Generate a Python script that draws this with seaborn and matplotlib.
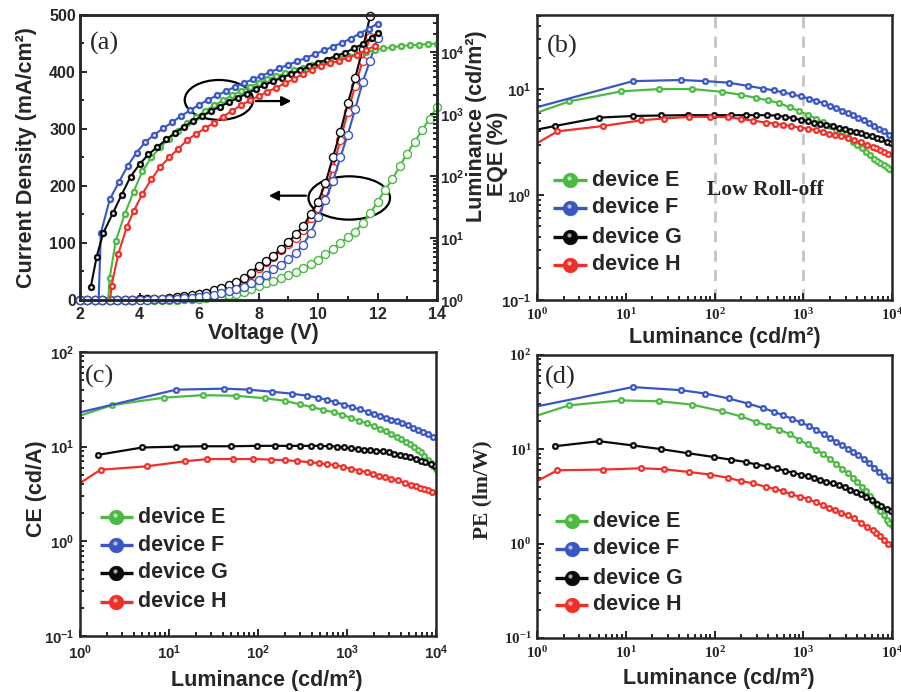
import numpy as np
import matplotlib
matplotlib.use("Agg")
import matplotlib.pyplot as plt
import seaborn as sns
from matplotlib.patches import Ellipse
from matplotlib.ticker import MultipleLocator, LogLocator, FuncFormatter, NullFormatter
from matplotlib.colors import to_rgb

# =========================================
# DATA
# =========================================

LABELS = ["device E", "device F", "device G", "device H"]
C_E, C_F, C_G, C_H = "#4cb944", "#3a56c4", "#0a0a0a", "#ef2f28"

# current density sweep (open circles, left axis of (a))
V_J = [2.0, 2.25, 2.5, 2.75, 3.0, 3.25, 3.5, 3.75, 4.0, 4.25, 4.5, 4.75, 5.0, 5.25,
       5.5, 5.75, 6.0, 6.25, 6.5, 6.75, 7.0, 7.25, 7.5, 7.75, 8.0, 8.25, 8.5, 8.75,
       9.0, 9.25, 9.5, 9.75, 10.0, 10.25, 10.5, 10.75, 11.0, 11.25, 11.5, 11.75,
       12.0, 12.25, 12.5, 12.75, 13.0, 13.25, 13.5, 13.75, 14.0]
J_E = [0, 0, 0, 0, 0, 0, 0, 0, 0.1, 0.2, 0.3, 0.4, 0.5, 0.7, 0.9, 1.2,
       2, 3, 4.5, 6, 8, 10.5, 14, 19, 24, 29, 34, 38, 43, 49, 56, 63, 71, 80, 90,
       100, 110, 120, 135, 152, 172, 193, 212, 235, 257, 278, 298, 318, 339]
J_F = [0, 0, 0, 0, 0, 0.1, 0.2, 0.3, 0.5, 0.7, 0.9, 1.2, 1.5, 2.0, 3.0, 4.0,
       5.0, 7, 9.5, 12, 15, 19, 23, 29, 35, 44, 55, 62, 72, 82, 97, 118, 146,
       176, 208, 250, 290, 335, 382, 420, 460]
J_G = [0, 0, 0, 0, 0.1, 0.2, 0.4, 0.6, 0.9, 1.3, 1.8, 2.6, 3.6, 4.8, 6.3, 8.0,
       10, 13, 17, 21, 26, 31, 38, 48, 59, 68, 78, 90, 102, 115, 130, 150, 172,
       205, 250, 295, 345, 390, 440, 498]
J_H = [0, 0, 0, 0, 0, 0.2, 0.4, 0.6, 0.9, 1.3, 1.8, 2.5, 3.4, 4.5, 6, 7.5,
       9.5, 12, 15.5, 20, 24, 29, 36, 46, 57, 66, 75, 87, 98, 109, 123, 143, 162,
       192, 232, 280, 330, 375, 420, 462]

# luminance sweep (filled circles, right axis of (a)) and efficiencies
V_E = [2.9, 3.0, 3.2, 3.5, 3.8, 4.1, 4.4, 4.7, 5.0, 5.3, 5.6, 5.9, 6.2, 6.5, 6.8,
       7.1, 7.4, 7.7, 8.0, 8.3, 8.6, 8.9, 9.2, 9.5, 9.8, 10.1, 10.4, 10.7, 11.0,
       11.3, 11.6, 11.9, 12.2, 12.5, 12.8, 13.1, 13.4, 13.7, 14.0]
L_E = [0.5, 2.3, 8.9, 24, 56, 120, 200, 295, 400, 540, 710, 890, 1120, 1380, 1660,
       2000, 2340, 2750, 3160, 3630, 4070, 4570, 5130, 5620, 6310, 6760, 7410,
       8130, 8710, 9330, 10000, 10700, 11500, 12000, 12600, 12900, 13200, 13500, 13800]
EQE_E = [4.9, 7.7, 9.6, 10.1, 10.1, 9.5, 8.9, 8.3, 7.9, 7.4, 6.75, 6.25, 5.75, 5.3,
         4.9, 4.5, 4.15, 3.85, 3.5, 3.2, 2.95, 2.75, 2.55, 2.4, 2.2, 2.1, 2.0, 1.9,
         1.82, 1.77, 1.72, 1.66, 1.6, 1.55, 1.5, 1.45, 1.4, 1.35, 1.3]
CE_E = [17.1, 27.5, 33, 35, 34.5, 32.5, 30.5, 28, 26.2, 24.5, 23, 21.8, 20.0, 18.7,
        17.7, 16.4, 15.4, 14.5, 13.6, 12.8, 12.1, 11.3, 10.6, 10.0, 9.3, 8.7, 8.0,
        7.3, 6.8, 6.3, 5.8, 5.4, 5.0, 4.7, 4.4, 4.1, 3.9, 3.7, 3.5]
PE_E = [18.5, 29.3, 33, 32.3, 29.8, 25.4, 22.3, 19.5, 17.8, 16.2, 14.4, 12.7, 11.3,
        9.9, 9.0, 7.9, 7.0, 6.2, 5.6, 5.0, 4.5, 4.0, 3.6, 3.2, 2.75, 2.5, 2.2, 2.0,
        1.8, 1.67, 1.56, 1.45, 1.35, 1.25, 1.15, 1.08, 1.0, 0.95, 0.9]

V_F = [2.6, 2.7, 3.0, 3.3, 3.6, 3.9, 4.2, 4.5, 4.8, 5.1, 5.4, 5.7, 6.0, 6.3, 6.6,
       6.9, 7.2, 7.5, 7.8, 8.1, 8.4, 8.7, 9.0, 9.3, 9.6, 9.9, 10.2, 10.5, 10.8,
       11.1, 11.4, 11.7, 12.0]
L_F = [0.4, 12, 42, 79, 145, 240, 355, 468, 589, 741, 933, 1150, 1410, 1700, 2000,
       2340, 2750, 3160, 3630, 4170, 4790, 5500, 6310, 7080, 8130, 9330, 10700,
       12300, 14100, 16600, 20000, 24000, 28800]
EQE_F = [5.5, 12.0, 12.3, 12.0, 11.6, 10.8, 10.2, 9.8, 9.4, 9.0, 8.6, 8.2, 7.8, 7.4,
         7.0, 6.7, 6.3, 6.0, 5.7, 5.4, 5.1, 4.8, 4.5, 4.25, 4.0, 3.7, 3.45, 3.2,
         2.95, 2.7, 2.45, 2.2, 2.0]
CE_F = [18.8, 40, 41, 40, 38, 36.3, 34.5, 33, 31.2, 29.5, 27.8, 26.0, 24.7, 23.3,
        22.2, 21.2, 20.1, 19.3, 18.5, 17.6, 16.8, 15.9, 15.1, 14.3, 13.5, 12.8,
        12.0, 11.3, 10.6, 9.9, 9.1, 8.4, 7.7]
PE_F = [24, 45.7, 42.4, 39, 34.6, 30.5, 27.3, 25, 23, 21.2, 19.3, 17.8, 16.1, 14.4,
        13.2, 12.1, 11.0, 10.2, 9.4, 8.8, 7.9, 7.1, 6.4, 5.8, 5.2, 4.7, 4.3, 3.9,
        3.5, 3.1, 2.7, 2.4, 2.1]

V_G = [2.2, 2.36, 2.56, 2.78, 3.1, 3.4, 3.7, 4.0, 4.3, 4.6, 4.9, 5.2, 5.5, 5.8,
       6.1, 6.4, 6.7, 7.0, 7.3, 7.6, 7.9, 8.2, 8.5, 8.8, 9.1, 9.4, 9.7, 10.0, 10.3,
       10.6, 10.9, 11.2, 11.5, 11.8, 12.0]
L_G = [0.5, 1.6, 5.0, 12, 25, 50, 98, 155, 224, 295, 390, 500, 630, 776, 933, 1120,
       1320, 1550, 1820, 2140, 2510, 2950, 3390, 3890, 4470, 5130, 5890, 6760,
       7590, 8710, 9770, 11500, 13500, 17000, 20400]
EQE_G = [3.7, 4.5, 5.4, 5.6, 5.66, 5.7, 5.7, 5.7, 5.7, 5.7, 5.7, 5.65, 5.5, 5.35,
         5.15, 5.0, 4.85, 4.7, 4.55, 4.45, 4.35, 4.2, 4.05, 3.95, 3.85, 3.7, 3.6,
         3.45, 3.35, 3.2, 3.1, 2.95, 2.8, 2.6, 2.45]
# CE / PE of device G start at the second luminance point
CE_G = [8.2, 9.8, 10.0, 10.1, 10.1, 10.2, 10.2, 10.2, 10.2, 10.2, 10.2, 10.1, 10.0,
        9.8, 9.6, 9.45, 9.3, 9.15, 9.0, 8.9, 8.7, 8.45, 8.25, 8.0, 7.7, 7.45, 7.1,
        6.85, 6.5, 6.25, 5.9, 5.5, 5.0, 4.6]
PE_G = [10.8, 12.2, 11.0, 10.05, 9.1, 8.3, 7.75, 7.35, 6.9, 6.6, 6.3, 5.9, 5.65,
        5.4, 5.2, 4.95, 4.7, 4.5, 4.35, 4.15, 3.95, 3.75, 3.55, 3.35, 3.15, 2.9,
        2.65, 2.5, 2.35, 2.2, 2.0, 1.85, 1.65, 1.5]

V_H = [2.95, 3.06, 3.29, 3.57, 3.8, 4.1, 4.4, 4.7, 5.0, 5.3, 5.6, 5.9, 6.2, 6.5,
       6.8, 7.1, 7.4, 7.7, 8.0, 8.3, 8.6, 8.9, 9.2, 9.5, 9.8, 10.1, 10.4, 10.7,
       11.0, 11.3, 11.6, 11.9]
L_H = [0.5, 1.7, 5.6, 15, 27, 52, 89, 141, 200, 275, 380, 479, 589, 724, 910, 1120,
       1380, 1660, 1950, 2290, 2690, 3160, 3720, 4470, 5250, 6030, 6610, 7240,
       8130, 9120, 10700, 12600]
EQE_H = [2.2, 4.0, 4.5, 5.1, 5.3, 5.5, 5.5, 5.45, 5.25, 5.05, 4.85, 4.75, 4.6, 4.5,
         4.35, 4.25, 4.1, 3.95, 3.8, 3.7, 3.6, 3.45, 3.3, 3.15, 3.0, 2.85, 2.75,
         2.65, 2.55, 2.45, 2.35, 2.2]
CE_H = [2.7, 5.7, 6.2, 7.0, 7.4, 7.4, 7.4, 7.3, 7.2, 7.05, 6.85, 6.7, 6.55, 6.4,
        6.1, 5.85, 5.6, 5.4, 5.15, 4.95, 4.75, 4.55, 4.4, 4.15, 3.95, 3.8, 3.7,
        3.6, 3.45, 3.3, 3.1, 2.9]
PE_H = [3.26, 6.0, 6.1, 6.3, 6.15, 5.75, 5.4, 5.0, 4.6, 4.35, 4.0, 3.8, 3.6, 3.36,
        3.15, 2.98, 2.75, 2.55, 2.4, 2.27, 2.13, 2.0, 1.85, 1.67, 1.5, 1.38, 1.3,
        1.2, 1.1, 1.0, 0.88, 0.78]

# =========================================
# STYLE
# =========================================

sns.set_style("ticks")
plt.rcParams["font.family"] = ["Liberation Sans", "DejaVu Sans"]
plt.rcParams["font.weight"] = "bold"
plt.rcParams["axes.labelweight"] = "bold"
plt.rcParams["mathtext.fontset"] = "custom"
plt.rcParams["mathtext.rm"] = "Liberation Sans:bold"
plt.rcParams["mathtext.bf"] = "Liberation Sans:bold"
plt.rcParams["mathtext.sf"] = "Liberation Serif:bold"
plt.rcParams["axes.linewidth"] = 1.8

SERIF = ["Liberation Serif", "DejaVu Serif"]
TICK_FS = 11.5
LOG_FS = 10.8
LABEL_FS = 15.5


def light(c, f=0.55):
    r, g, b = to_rgb(c)
    return (r + (1 - r) * f, g + (1 - g) * f, b + (1 - b) * f)


def pow_sans(v, pos):
    return r"$\mathbf{10^{%d}}$" % int(round(np.log10(v)))


def pow_serif(v, pos):
    return r"$\mathsf{10^{%d}}$" % int(round(np.log10(v)))


def ticks_in(ax, fs=TICK_FS):
    ax.tick_params(which="both", direction="in", top=False, right=False, width=1.4)
    ax.tick_params(which="major", length=5, labelsize=fs)
    ax.tick_params(which="minor", length=2.8)


def log_axes(ax, ylim, xfmt, yfmt):
    ax.set_xscale("log")
    ax.set_yscale("log")
    ax.set_xlim(1, 1e4)
    ax.set_ylim(*ylim)
    for axis, fmt in ((ax.xaxis, xfmt), (ax.yaxis, yfmt)):
        axis.set_major_locator(LogLocator(base=10, numticks=10))
        axis.set_minor_locator(LogLocator(base=10, subs=np.arange(2, 10), numticks=20))
        axis.set_major_formatter(FuncFormatter(fmt))
        axis.set_minor_formatter(NullFormatter())
    ticks_in(ax, LOG_FS)
    ax.tick_params(axis="x", pad=5)
    ax.tick_params(axis="y", pad=4)


def ball_line(ax, x, y, color, ms=4.8, lw=1.6):
    sns.lineplot(x=x, y=y, ax=ax, color=color, lw=lw, marker="o", ms=ms,
                 mec=color, mew=0.3, estimator=None, sort=False, legend=False)
    ax.plot(x, y, ls="none", marker="o", ms=ms * 0.38, color="white", mec="none")


def device_legend(ax, x0, x1, xt, rows):
    # line + shaded ball + label, placed in axes fractions
    xc = (x0 + x1) / 2
    for c, lab, yr in zip((C_E, C_F, C_G, C_H), LABELS, rows):
        kw = dict(transform=ax.transAxes, clip_on=False)
        ax.plot([x0, x1], [yr, yr], color=c, lw=2.4, solid_capstyle="butt", **kw)
        ax.plot([xc], [yr], ls="none", marker="o", ms=10.5, mfc=c, mec=c, mew=0.5, **kw)
        ax.plot([xc - 0.004], [yr + 0.006], ls="none", marker="o", ms=3.0,
                mfc=light(c, 0.65), mec="none", **kw)
        ax.text(xt, yr, lab, transform=ax.transAxes, fontsize=15.5, weight="bold",
                va="center", ha="left")


fig = plt.figure(figsize=(9.01, 6.92), dpi=100)

# =========================================
# (a) J-V-L
# =========================================

ax_a = fig.add_axes([80 / 901, 392 / 692, 357 / 901, 285 / 692])
ax_a.set_xlim(2, 14)
ax_a.set_ylim(0, 500)
ax_a.xaxis.set_major_locator(MultipleLocator(2))
ax_a.xaxis.set_minor_locator(MultipleLocator(1))
ax_a.yaxis.set_major_locator(MultipleLocator(100))
ax_a.yaxis.set_minor_locator(MultipleLocator(50))
ticks_in(ax_a)
ax_a.tick_params(axis="x", pad=5)
ax_a.tick_params(axis="y", pad=3)

for J, c in ((J_E, C_E), (J_H, C_H), (J_G, C_G), (J_F, C_F)):
    sns.lineplot(x=V_J[:len(J)], y=J, ax=ax_a, color=c, lw=1.5, marker="o", ms=5.8,
                 mfc="white", mec=c, mew=1.0, estimator=None, sort=False,
                 legend=False, clip_on=False)

ax_a2 = ax_a.twinx()
ax_a2.set_yscale("log")
ax_a2.set_ylim(1, 10 ** 4.6)
ax_a2.yaxis.set_major_locator(LogLocator(base=10, numticks=10))
ax_a2.yaxis.set_minor_locator(LogLocator(base=10, subs=np.arange(2, 10), numticks=20))
ax_a2.yaxis.set_major_formatter(FuncFormatter(pow_sans))
ax_a2.yaxis.set_minor_formatter(NullFormatter())
ax_a2.tick_params(which="both", direction="in", width=1.4, labelsize=LOG_FS, pad=2)
ax_a2.tick_params(which="major", length=5)
ax_a2.tick_params(which="minor", length=2.8)

for V, L, c in ((V_E, L_E, C_E), (V_F, L_F, C_F), (V_G[1:], L_G[1:], C_G), (V_H, L_H, C_H)):
    ball_line(ax_a2, V, L, c, ms=5.0, lw=1.5)

ax_a.set_xlabel("Voltage (V)", fontsize=LABEL_FS)
ax_a.set_ylabel("Current Density (mA/cm²)", fontsize=LABEL_FS)
ax_a2.set_ylabel("Luminance (cd/m²)", fontsize=LABEL_FS)
ax_a.xaxis.set_label_coords(0.513, -0.08)
ax_a.yaxis.set_label_coords(-0.12, 0.5)
ax_a2.yaxis.set_label_coords(1.082, 0.61)
ax_a.text(0.028, 0.9, "(a)", transform=ax_a.transAxes, fontsize=19,
          family=SERIF, weight="normal", va="center", ha="left")

# guide ellipses and arrows
ax_a.add_patch(Ellipse((6.67, 351), 2.3, 70, fill=False, lw=1.6, color="k"))
ax_a.annotate("", xy=(9.2, 349), xytext=(7.82, 349),
              arrowprops=dict(arrowstyle="-|>", lw=1.6, color="k", mutation_scale=14))
ax_a.add_patch(Ellipse((11.05, 179), 2.74, 76, fill=False, lw=1.6, color="k"))
ax_a.annotate("", xy=(8.25, 183), xytext=(9.69, 183),
              arrowprops=dict(arrowstyle="-|>", lw=1.6, color="k", mutation_scale=14))

# =========================================
# (b) EQE
# =========================================

ax_b = fig.add_axes([537 / 901, 392 / 692, 355 / 901, 285 / 692])
log_axes(ax_b, (0.1, 51), pow_serif, pow_sans)
for x in (1e2, 1e3):
    ax_b.axvline(x, color="#c4c4c4", lw=2.0, dashes=(4, 3), zorder=0)
for L, y, c in ((L_E, EQE_E, C_E), (L_F, EQE_F, C_F), (L_G, EQE_G, C_G), (L_H, EQE_H, C_H)):
    ball_line(ax_b, L, y, c)
ax_b.set_xlabel("Luminance (cd/m²)", fontsize=LABEL_FS)
ax_b.set_ylabel("EQE (%)", fontsize=LABEL_FS)
ax_b.xaxis.set_label_coords(0.53, -0.095)
ax_b.yaxis.set_label_coords(-0.083, 0.512)
ax_b.text(0.028, 0.888, "(b)", transform=ax_b.transAxes, fontsize=19,
          family=SERIF, weight="normal", va="center", ha="left")
ax_b.text(0.642, 0.386, "Low Roll-off", transform=ax_b.transAxes, fontsize=15.5,
          family=SERIF, weight="bold", va="center", ha="center")
device_legend(ax_b, 0.045, 0.141, 0.155, (0.421, 0.323, 0.221, 0.123))

# =========================================
# (c) CE
# =========================================

ax_c = fig.add_axes([80 / 901, 56 / 692, 356 / 901, 284 / 692])
log_axes(ax_c, (0.1, 100), pow_sans, pow_sans)
for L, y, c in ((L_E, CE_E, C_E), (L_F, CE_F, C_F), (L_G[1:], CE_G, C_G), (L_H, CE_H, C_H)):
    ball_line(ax_c, L, y, c)
ax_c.set_xlabel("Luminance (cd/m²)", fontsize=LABEL_FS)
ax_c.set_ylabel("CE (cd/A)", fontsize=LABEL_FS)
ax_c.xaxis.set_label_coords(0.525, -0.12)
ax_c.yaxis.set_label_coords(-0.093, 0.52)
ax_c.text(0.014, 0.915, "(c)", transform=ax_c.transAxes, fontsize=19,
          family=SERIF, weight="normal", va="center", ha="left")
device_legend(ax_c, 0.056, 0.149, 0.163, (0.419, 0.32, 0.222, 0.12))

# =========================================
# (d) PE
# =========================================

ax_d = fig.add_axes([537 / 901, 54 / 692, 355 / 901, 283 / 692])
log_axes(ax_d, (0.1, 100), pow_serif, pow_serif)
for L, y, c in ((L_E, PE_E, C_E), (L_F, PE_F, C_F), (L_G[1:], PE_G, C_G), (L_H, PE_H, C_H)):
    ball_line(ax_d, L, y, c)
ax_d.set_xlabel("Luminance (cd/m²)", fontsize=LABEL_FS)
ax_d.set_ylabel("PE (lm/W)", fontsize=LABEL_FS, family=SERIF)
ax_d.xaxis.set_label_coords(0.513, -0.105)
ax_d.yaxis.set_label_coords(-0.124, 0.523)
ax_d.text(0.023, 0.922, "(d)", transform=ax_d.transAxes, fontsize=19,
          family=SERIF, weight="normal", va="center", ha="left")
device_legend(ax_d, 0.051, 0.144, 0.158, (0.413, 0.315, 0.212, 0.117))

fig.savefig("out.png", dpi=100)
